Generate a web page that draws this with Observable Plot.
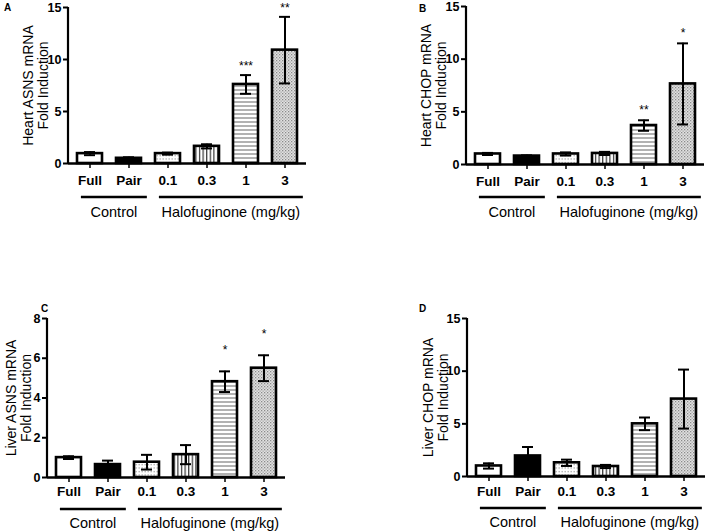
<!DOCTYPE html>
<html><head><meta charset="utf-8">
<script src="https://cdn.jsdelivr.net/npm/d3@7"></script>
<script src="https://cdn.jsdelivr.net/npm/@observablehq/plot@0.6"></script>
<style>
body{margin:0;background:#fff;}
#wrap{position:relative;width:709px;height:532px;overflow:hidden;background:#fff;font-family:"Liberation Sans",Arial,sans-serif;}
.panel{position:absolute;}
.letter{position:absolute;font:bold 10px "Liberation Sans",Arial,sans-serif;line-height:10px;}
</style></head><body>
<svg width="0" height="0" style="position:absolute">
<defs>
<pattern id="pDots" patternUnits="userSpaceOnUse" width="3" height="3.5">
<rect width="3" height="3.5" fill="#fff"/><rect x="0.5" y="1" width="1.4" height="1.1" fill="#9a9a9a"/>
</pattern>
<pattern id="pVLines" patternUnits="userSpaceOnUse" width="3.6" height="4">
<rect width="3.6" height="4" fill="#fff"/><rect x="1" y="0" width="1.1" height="4" fill="#222"/>
</pattern>
<pattern id="pHLines" patternUnits="userSpaceOnUse" width="4" height="4">
<rect width="4" height="4" fill="#fff"/><rect x="0" y="1.5" width="4" height="1" fill="#666"/>
</pattern>
<pattern id="pStipple" patternUnits="userSpaceOnUse" width="3" height="3">
<rect width="3" height="3" fill="#e2e2e2"/><rect x="0" y="0" width="1.3" height="1.3" fill="#8a8a8a"/><rect x="1.5" y="1.5" width="1.3" height="1.3" fill="#a5a5a5"/>
</pattern>
</defs></svg>
<div id="wrap"></div>
<script>
// ---- data ----
const categories = ["Full", "Pair", "0.1", "0.3", "1", "3"];
const groupLabels = ["Control", "Halofuginone (mg/kg)"];
const groupOf = [0, 0, 1, 1, 1, 1];

const heartAsnsMean = [0.95, 0.5, 0.95, 1.65, 7.6, 10.9];
const heartAsnsErr  = [0.15, 0.1, 0.1, 0.2, 0.9, 3.2];
const heartAsnsSig  = ["", "", "", "", "***", "**"];

const heartChopMean = [1.0, 0.8, 1.0, 1.05, 3.7, 7.65];
const heartChopErr  = [0.1, 0.07, 0.15, 0.15, 0.5, 3.85];
const heartChopSig  = ["", "", "", "", "**", "*"];

const liverAsnsMean = [1.0, 0.65, 0.77, 1.15, 4.82, 5.5];
const liverAsnsErr  = [0.07, 0.2, 0.37, 0.48, 0.52, 0.65];
const liverAsnsSig  = ["", "", "", "", "*", "*"];

const liverChopMean = [1.0, 1.95, 1.3, 0.95, 5.0, 7.35];
const liverChopErr  = [0.25, 0.85, 0.3, 0.15, 0.6, 2.8];
const liverChopSig  = ["", "", "", "", "", ""];

const ticks15 = [0, 5, 10, 15];
const ticks8 = [0, 2, 4, 6, 8];

// ---- styles ----
const fillFor = {"Full": "#fff", "Pair": "#000", "0.1": "url(#pDots)", "0.3": "url(#pVLines)", "1": "url(#pHLines)", "3": "url(#pStipple)"};
const FONT = "Liberation Sans, Arial, sans-serif";
const wrap = document.getElementById("wrap");

function panel(o) {
  const data = categories.map((c, i) => ({cat: c, v: o.mean[i], e: o.err[i], s: o.sig[i]}));
  const chart = Plot.plot({
    width: o.width, height: o.height,
    marginLeft: o.ml, marginRight: o.mr, marginTop: o.mt, marginBottom: o.mb,
    style: {fontFamily: FONT, fontSize: "13px", color: "#000", background: "transparent", overflow: "visible"},
    x: {domain: categories, paddingInner: 0.35, paddingOuter: 0.175, axis: null},
    y: {domain: [0, o.ticks[o.ticks.length - 1]], axis: null},
    color: {type: "identity"},
    marks: [
      Plot.barY(data, {x: "cat", y: "v", fill: d => fillFor[d.cat], stroke: "#000", strokeWidth: 2.6}),
      Plot.ruleX(data, {x: "cat", y1: d => d.v - d.e, y2: d => d.v + d.e, stroke: "#000", strokeWidth: 2}),
      Plot.tickY(data, {x: "cat", y: d => d.v + d.e, insetLeft: 7, insetRight: 7, stroke: "#000", strokeWidth: 2}),
      Plot.tickY(data, {x: "cat", y: d => d.v - d.e, insetLeft: 7, insetRight: 7, stroke: "#000", strokeWidth: 2}),
      Plot.text(data.filter(d => d.s), {x: "cat", y: d => d.v + d.e, text: "s", dy: o.starDy, fontSize: 12, fill: "#000"}),
      Plot.ruleY([0], {stroke: "#000", strokeWidth: 2.4}),
      Plot.axisY({ticks: o.ticks, tickSize: 5, tickPadding: 2, label: null, fontSize: 12.5, strokeWidth: 2, fontWeight: "bold"}),
      Plot.axisX({tickSize: 5, tickPadding: o.xPad, label: null, fontSize: 13.5, strokeWidth: 1.5, fontWeight: 600}),
      Plot.text([o.ylabel], {frameAnchor: "left", textAnchor: "middle", lineAnchor: "middle", rotate: -90, dx: o.labelDx, text: d => d, fontSize: 14, lineHeight: 1.1, fill: "#000"})
    ]
  });
  chart.classList.add("panel");
  chart.style.left = o.left + "px";
  chart.style.top = o.top + "px";
  wrap.appendChild(chart);

  const sx = chart.scale("x"), sy = chart.scale("y");
  const svg = d3.select(chart);
  const y0 = sy.apply(0), yTop = sy.apply(o.ticks[o.ticks.length - 1]);
  svg.append("line").attr("x1", o.ml).attr("x2", o.ml).attr("y1", y0 + 1).attr("y2", yTop)
    .attr("stroke", "#000").attr("stroke-width", 2.2);
  groupLabels.forEach((g, gi) => {
    const members = categories.filter((c, i) => groupOf[i] === gi);
    const a = sx.apply(members[0]) + 0.1 * sx.step;
    const b = sx.apply(members[members.length - 1]) + sx.bandwidth + 0.15 * sx.step;
    svg.append("line").attr("x1", a).attr("x2", b).attr("y1", y0 + o.lineOff).attr("y2", y0 + o.lineOff)
      .attr("stroke", "#000").attr("stroke-width", 2.6);
    svg.append("text").attr("x", (a + b) / 2).attr("y", y0 + o.labelOff).attr("text-anchor", "middle")
      .attr("dominant-baseline", "central").attr("font-size", 14.5).attr("font-family", FONT).text(g);
  });

  const L = document.createElement("div");
  L.className = "letter";
  L.textContent = o.letter;
  L.style.left = o.letterX + "px";
  L.style.top = o.letterY + "px";
  wrap.appendChild(L);
}

panel({mean: heartAsnsMean, err: heartAsnsErr, sig: heartAsnsSig, ticks: ticks15,
  ylabel: "Heart ASNS mRNA\nFold Induction", letter: "A", letterX: 4, letterY: 3,
  left: 0, top: 0, width: 330, height: 235, ml: 68, mr: 24, mt: 7, mb: 72,
  starDy: -9, xPad: 7, lineOff: 34, labelOff: 49, labelDx: -33});

panel({mean: heartChopMean, err: heartChopErr, sig: heartChopSig, ticks: ticks15,
  ylabel: "Heart CHOP mRNA\nFold Induction", letter: "B", letterX: 419, letterY: 4,
  left: 360, top: 0, width: 349, height: 235, ml: 106, mr: 5, mt: 6, mb: 71,
  starDy: -10, xPad: 7, lineOff: 33, labelOff: 48, labelDx: -33});

panel({mean: liverAsnsMean, err: liverAsnsErr, sig: liverAsnsSig, ticks: ticks8,
  ylabel: "Liver ASNS mRNA\nFold Induction", letter: "C", letterX: 41, letterY: 304,
  left: 0, top: 260, width: 310, height: 272, ml: 47, mr: 25, mt: 58, mb: 55,
  starDy: -21, xPad: 4, lineOff: 32, labelOff: 46, labelDx: -29});

panel({mean: liverChopMean, err: liverChopErr, sig: liverChopSig, ticks: ticks15,
  ylabel: "Liver CHOP mRNA\nFold Induction", letter: "D", letterX: 419, letterY: 304,
  left: 360, top: 260, width: 349, height: 272, ml: 107, mr: 4, mt: 58, mb: 56,
  starDy: -10, xPad: 5, lineOff: 32, labelOff: 46, labelDx: -32});
</script>
</body></html>
